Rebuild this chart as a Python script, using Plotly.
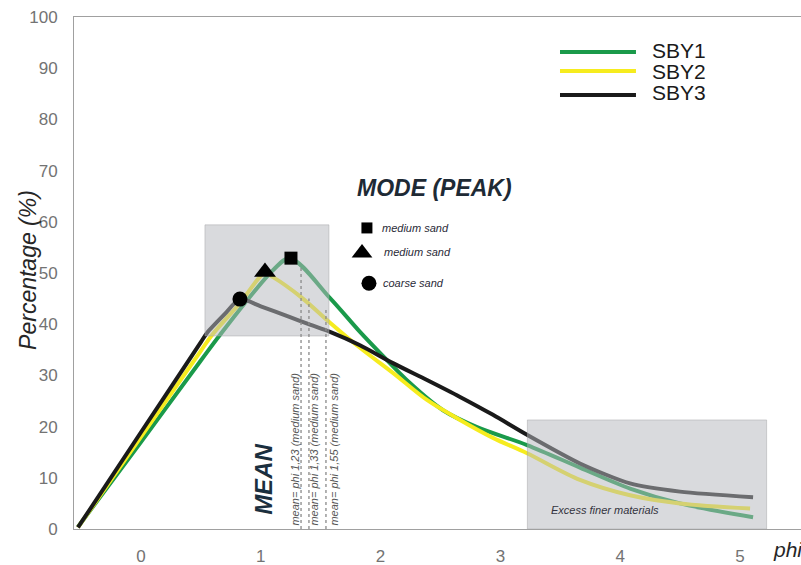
import plotly.graph_objects as go

# ---------------- data ----------------
phi_sby1 = [-0.526, 0.0, 0.5, 0.659, 1.104, 1.244, 1.578, 1.828, 1.995, 2.245, 2.521, 2.805, 3.222, 3.664, 4.082, 4.499, 5.109]
pct_sby1 = [0.4, 17.0, 32.9, 37.9, 50.6, 52.9, 45.1, 38.5, 34.4, 28.5, 23.2, 19.9, 16.4, 12.0, 7.9, 5.0, 2.3]

phi_sby2 = [-0.526, 0.0, 0.5, 0.593, 0.826, 1.035, 1.102, 1.336, 1.578, 1.828, 2.103, 2.387, 2.663, 2.938, 3.222, 3.664, 4.082, 4.499, 5.084]
pct_sby2 = [0.3, 18.0, 34.8, 37.9, 44.1, 50.0, 49.2, 45.3, 40.3, 35.4, 30.5, 25.2, 21.3, 17.8, 14.8, 9.6, 6.6, 5.0, 4.0]

phi_sby3 = [-0.526, 0.0, 0.5, 0.551, 0.70, 0.826, 1.0, 1.244, 1.40, 1.578, 1.828, 2.103, 2.387, 2.663, 2.938, 3.222, 3.664, 4.082, 4.499, 5.109]
pct_sby3 = [0.3, 18.9, 36.5, 38.3, 42.0, 44.9, 43.5, 41.4, 40.0, 38.5, 35.9, 32.4, 29.1, 25.8, 22.3, 18.4, 12.8, 8.9, 7.3, 6.2]

series_names = ["SBY1", "SBY2", "SBY3"]
series_colors = ["#1a9a4a", "#f6ec1e", "#1a1a1a"]
series_smoothing = [0.9, 0.9, 0.7]

# modes (peaks)
mode_phi = [1.252, 1.035, 0.826]
mode_pct = [52.9, 50.2, 44.9]
mode_symbols = ["square", "triangle-up", "circle"]
mode_classes = ["medium sand", "medium sand", "coarse sand"]

# means
mean_values = ["1,23", "1,33", "1,55"]
mean_classes = ["medium sand", "medium sand", "medium sand"]

x_ticks = [0, 1, 2, 3, 4, 5]
y_ticks = list(range(0, 101, 10))

FONT = "Liberation Sans, Arial, sans-serif"

# ---------------- layout positions ----------------
box_peak = dict(x0=0.534, x1=1.569, y0=37.7, y1=59.4)
box_fine = dict(x0=3.225, x1=5.222, y0=0.0, y1=21.3)
mean_line_x = [1.336, 1.402, 1.544]
mean_line_top = [51.6, 45.0, 43.0]
mean_text_x = [1.285, 1.444, 1.611]
key_marker_x = [1.886, 1.845, 1.903]
key_marker_y = [58.8, 53.9, 48.0]
key_text_x = [1.995, 2.01, 2.0]
key_text_y = [58.8, 54.1, 48.0]

fig = go.Figure()

for x, y, name, col, sm in zip([phi_sby1, phi_sby2, phi_sby3],
                               [pct_sby1, pct_sby2, pct_sby3],
                               series_names, series_colors, series_smoothing):
    fig.add_trace(go.Scatter(x=x, y=y, mode="lines", name=name,
                             line=dict(color=col, width=4, shape="spline", smoothing=sm),
                             showlegend=False, hoverinfo="skip"))

# translucent highlight boxes over the lines
for b in (box_peak, box_fine):
    fig.add_trace(go.Scatter(
        x=[b["x0"], b["x1"], b["x1"], b["x0"], b["x0"]],
        y=[b["y0"], b["y0"], b["y1"], b["y1"], b["y0"]],
        mode="lines", fill="toself",
        fillcolor="rgba(183,185,190,0.52)",
        line=dict(color="rgba(160,160,165,0.45)", width=1),
        showlegend=False, hoverinfo="skip"))

# peak markers
fig.add_trace(go.Scatter(x=mode_phi, y=mode_pct, mode="markers",
                         marker=dict(symbol=mode_symbols, size=[13, 19, 15], color="#000000",
                                     opacity=1, line=dict(width=0)),
                         showlegend=False, hoverinfo="skip"))

# key markers next to MODE (PEAK)
fig.add_trace(go.Scatter(x=key_marker_x, y=key_marker_y, mode="markers",
                         marker=dict(symbol=mode_symbols, size=[11, 18, 15], color="#000000",
                                     opacity=1, line=dict(width=0)),
                         showlegend=False, hoverinfo="skip"))

shapes = []
for xm, top in zip(mean_line_x, mean_line_top):
    shapes.append(dict(type="line", xref="x", yref="y", x0=xm, x1=xm, y0=0, y1=top,
                       line=dict(color="#8a8a8a", width=1.3, dash="dot"), layer="above"))

# manual legend
leg_y = [0.9316, 0.8945, 0.8477]
leg_text_y = [0.9336, 0.8926, 0.8516]
for col, yy in zip(series_colors, leg_y):
    shapes.append(dict(type="line", xref="paper", yref="paper", x0=0.6685, x1=0.773,
                       y0=yy, y1=yy, line=dict(color=col, width=4)))

annotations = []
for name, yy in zip(series_names, leg_text_y):
    annotations.append(dict(xref="paper", yref="paper", x=0.7923, y=yy, text=name,
                            showarrow=False, xanchor="left", yanchor="middle",
                            font=dict(family=FONT, size=21, color="#1a1a1a")))

for cls, xx, yy in zip(mode_classes, key_text_x, key_text_y):
    annotations.append(dict(x=xx, y=yy, text="<i>" + cls + "</i>", showarrow=False,
                            xanchor="left", yanchor="middle",
                            font=dict(family=FONT, size=11, color="#2a2a38")))

annotations.append(dict(x=1.786, y=66.6, text="<b><i>MODE (PEAK)</i></b>", showarrow=False,
                        xanchor="left", yanchor="middle",
                        font=dict(family=FONT, size=23, color="#1e2a35")))

annotations.append(dict(x=1.027, y=9.6, text="<b><i>MEAN</i></b>", showarrow=False,
                        textangle=-90, xanchor="center", yanchor="middle",
                        font=dict(family=FONT, size=24, color="#1b2f3e")))

for val, cls, xx in zip(mean_values, mean_classes, mean_text_x):
    annotations.append(dict(x=xx, y=15.7, text="<i>mean= phi " + val + " (" + cls + ")</i>",
                            showarrow=False, textangle=-90, xanchor="center", yanchor="middle",
                            font=dict(family=FONT, size=11, color="#555555")))

annotations.append(dict(x=3.877, y=3.7, text="<i>Excess finer materials</i>", showarrow=False,
                        xanchor="center", yanchor="middle",
                        font=dict(family=FONT, size=11, color="#333340")))

annotations.append(dict(xref="paper", yref="paper", x=-0.0633, y=0.506,
                        text="<i>Percentage (%)</i>", showarrow=False, textangle=-90,
                        xanchor="center", yanchor="middle",
                        font=dict(family=FONT, size=23, color="#262626")))

annotations.append(dict(xref="paper", yref="paper", x=0.9587, y=-0.041,
                        text="<i>phi</i>", showarrow=False, xanchor="left", yanchor="middle",
                        font=dict(family=FONT, size=21, color="#262626")))

fig.update_layout(
    width=801, height=565,
    margin=dict(l=74, r=0, t=17, b=36),
    paper_bgcolor="white", plot_bgcolor="white",
    shapes=shapes, annotations=annotations,
    showlegend=False,
    font=dict(family=FONT),
    xaxis=dict(range=[-0.559, 5.509], tickvals=x_ticks, ticktext=[str(t) for t in x_ticks],
               showgrid=False, zeroline=False, showline=True, linecolor="#a0a0a0",
               linewidth=1, mirror=True, ticks="", ticklabelstandoff=12,
               tickfont=dict(family=FONT, size=17, color="#737373")),
    yaxis=dict(range=[0, 100], tickvals=y_ticks, showgrid=False, zeroline=False,
               showline=True, linecolor="#a0a0a0", linewidth=1, ticks="",
               ticklabelstandoff=12,
               tickfont=dict(family=FONT, size=17, color="#737373")),
)

fig.write_html("out.html",
               config={"displayModeBar": False},
               post_script="document.body.style.margin='0px';document.body.style.overflow='hidden';")
